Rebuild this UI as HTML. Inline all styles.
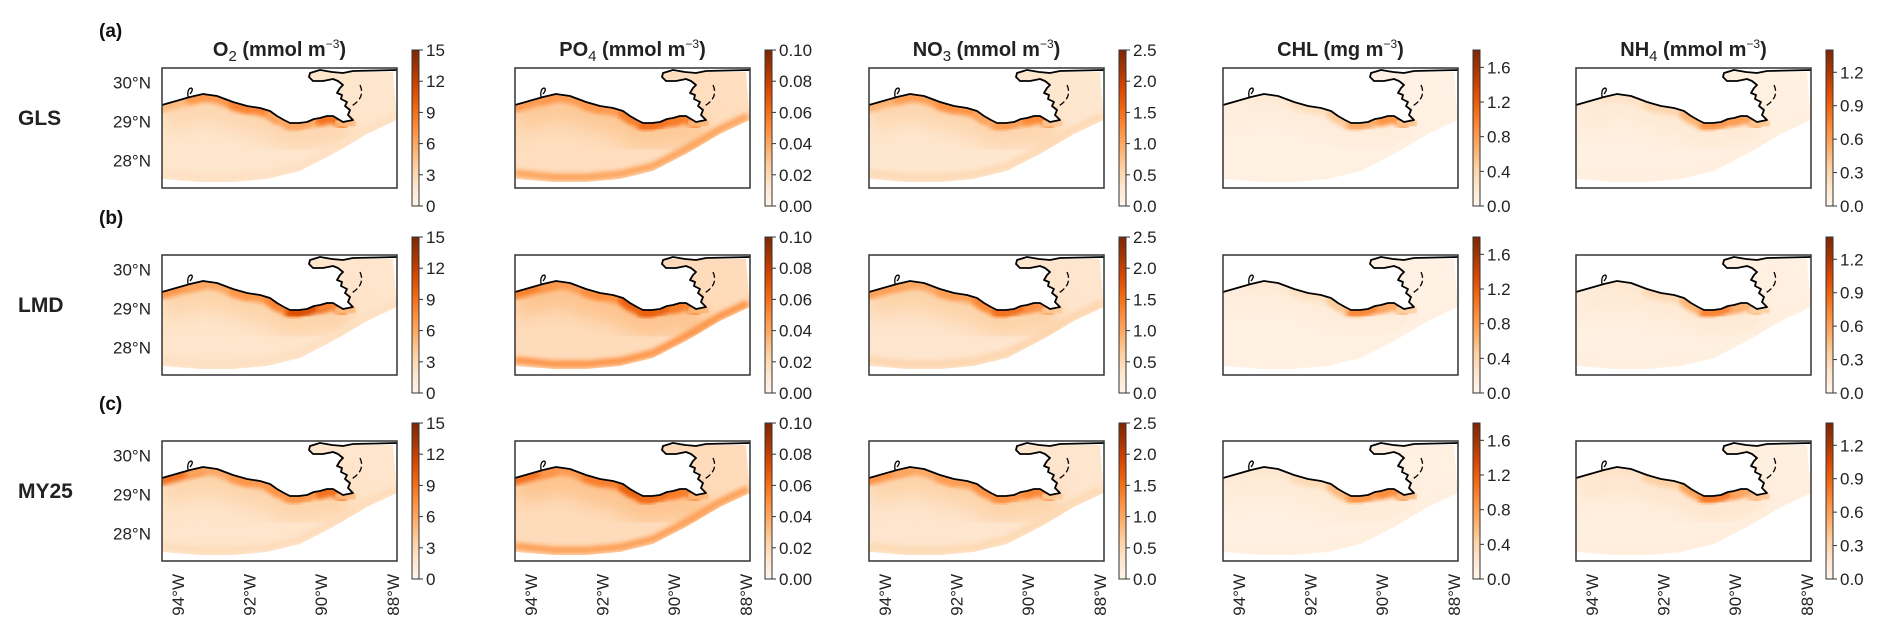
<!DOCTYPE html>
<html><head><meta charset="utf-8">
<style>
html,body{margin:0;padding:0;background:#fff;}
svg{display:block;font-family:"Liberation Sans",Arial,sans-serif;}
</style></head>
<body>
<svg id="fig" width="1892" height="639" viewBox="0 0 1892 639" xmlns="http://www.w3.org/2000/svg">
<defs>
<filter id="blur3" x="-20%" y="-50%" width="140%" height="200%"><feGaussianBlur stdDeviation="2.5"/></filter>
<filter id="blur8" x="-20%" y="-50%" width="140%" height="200%"><feGaussianBlur stdDeviation="10"/></filter>
<linearGradient id="cmap" x1="0" y1="1" x2="0" y2="0">
<stop offset="0" stop-color="#fff5eb"/><stop offset="0.125" stop-color="#fee6ce"/><stop offset="0.25" stop-color="#fdd0a2"/>
<stop offset="0.375" stop-color="#fdae6b"/><stop offset="0.5" stop-color="#fd8d3c"/><stop offset="0.625" stop-color="#f16913"/>
<stop offset="0.75" stop-color="#d94801"/><stop offset="0.875" stop-color="#a63603"/><stop offset="1" stop-color="#7f2704"/>
</linearGradient>
</defs>
</svg>
<script>
// ---- data ----
const models = ['GLS','LMD','MY25'];
const panelLetters = ['(a)','(b)','(c)'];
const varNames = ['O2','PO4','NO3','CHL','NH4'];
const vmax = [15, 0.1, 2.5, 1.8, 1.4];
const o2Ticks = [0,3,6,9,12,15];
const po4Ticks = [0,0.02,0.04,0.06,0.08,0.10];
const no3Ticks = [0,0.5,1.0,1.5,2.0,2.5];
const chlTicks = [0,0.4,0.8,1.2,1.6];
const nh4Ticks = [0,0.3,0.6,0.9,1.2];
const tickDecimals = [0,2,1,1,1];
const latTicks = [30,29,28];
const lonTicks = [94,92,90,88];
// offshore / nearshore / south-band values [model][var]
const offshoreVals = [[1.9,0.017,0.3,0.06,0.06],[2.0,0.018,0.32,0.06,0.06],[2.0,0.018,0.32,0.08,0.07]];
const nearshoreVals = [[3.2,0.028,0.55,0.13,0.14],[3.5,0.03,0.6,0.13,0.14],[3.4,0.03,0.58,0.16,0.17]];
const southVals = [[2.4,0.042,0.5,0.07,0.07],[2.4,0.048,0.55,0.07,0.07],[2.7,0.044,0.5,0.09,0.08]];
// coastal segment values (west -> east) [model][var][segment]
const coastVals = [
 [[5,7,8,6,6,9,5],[0.045,0.045,0.045,0.055,0.06,0.055,0.035],[0.9,1.1,1.2,1.0,1.1,1.3,0.7],[0.12,0.18,0.3,0.5,0.7,0.85,0.55],[0.12,0.2,0.3,0.5,0.65,0.6,0.4]],
 [[7,6,7,8,11,8,5],[0.055,0.045,0.05,0.065,0.065,0.055,0.035],[1.1,1.0,1.1,1.3,1.5,1.2,0.7],[0.12,0.18,0.28,0.5,0.95,0.7,0.45],[0.1,0.16,0.28,0.5,0.75,0.5,0.35]],
 [[9,6,7,7,7,9,5],[0.06,0.045,0.055,0.065,0.06,0.055,0.035],[1.2,1.0,1.1,1.2,1.2,1.3,0.7],[0.16,0.2,0.35,0.6,0.85,0.9,0.6],[0.15,0.2,0.35,0.6,0.8,0.55,0.4]]
];
const allTicks = [o2Ticks,po4Ticks,no3Ticks,chlTicks,nh4Ticks];

// ---- layout ----
const colLeft = [162,515,869,1223,1576];
const rowTop = [68,255,441];
const BW = 235, BH = 120;
const cbTop = [50,237,423], CBH = 156;
const NS = 'http://www.w3.org/2000/svg';
const svg = document.getElementById('fig');
const stops = ['#fff5eb','#fee6ce','#fdd0a2','#fdae6b','#fd8d3c','#f16913','#d94801','#a63603','#7f2704'];
function hex(c){return [parseInt(c.substr(1,2),16),parseInt(c.substr(3,2),16),parseInt(c.substr(5,2),16)];}
function cmap(t){t=Math.max(0,Math.min(1,t));const p=t*8,i=Math.min(7,Math.floor(p)),f=p-i;const a=hex(stops[i]),b=hex(stops[i+1]);
 return 'rgb('+a.map((v,k)=>Math.round(v+(b[k]-v)*f)).join(',')+')';}
function mk(tag,attrs,parent){const e=document.createElementNS(NS,tag);for(const k in attrs)e.setAttribute(k,attrs[k]);(parent||svg).appendChild(e);return e;}
function pts(a,ox,oy){return a.map(p=>(p[0]+ox)+','+(p[1]+oy)).join(' ');}
// axis functions
function latY(lat){return 14.5+(30-lat)*39;}
function lonX(lon){return 16+(94-lon)*35.8;}

const coast = [[0,37],[14,33],[28,29],[41,26],[55,28],[71,34],[85,38],[98,40],[108,43],[115,48],[122,52],[128,55],[137,55],[145,54],[152,51],[158,50],[165,48],[171,48],[176,51],[181,54],[186,53],[191,52]];
const segIdx = [[0,3],[2,6],[5,9],[8,12],[11,16],[15,19],[18,21]];
const delta = [[191,52],[186,47],[188,42],[183,38],[185,34],[179,31],[180,27],[175,25],[178,20],[181,17],[176,13],[171,11],[161,13],[151,13],[147,9],[148,5],[158,2],[170,4],[181,5],[191,3],[235,2]];
const landPoly = coast.concat(delta.slice(1)).concat([[235,0],[0,0]]);
const waterPoly = [[0,30],[0,111],[38,114],[72,114],[105,111],[138,103],[171,86],[205,66],[235,52],[231,4],[0,4]];
const southLine = [[0,105],[38,109],[72,109],[105,106],[138,98],[171,81],[205,61],[233,48]];

for(let r=0;r<3;r++){
 let t=mk('text',{x:18,y:rowTop[r]+57,'font-size':21,'font-weight':'bold',fill:'#222'});t.textContent=models[r];
 
 
 t=mk('text',{x:99,y:rowTop[r]-31,'font-size':19,'font-weight':'bold',fill:'#111'});t.textContent=panelLetters[r];
 
 
 for(let c=0;c<5;c++){
  const x0=colLeft[c], y0=rowTop[r], vm=vmax[c];
  const g=mk('g',{transform:'translate('+x0+','+y0+')'});
  
  
  const cid='clip'+r+'_'+c;
  const cp=mk('clipPath',{id:cid},g);mk('polygon',{points:pts(waterPoly,0,0)},cp);
  const w=mk('g',{'clip-path':'url(#'+cid+')'},g);
  mk('polygon',{points:pts(waterPoly,0,0),fill:cmap(offshoreVals[r][c]/vm)},w);
  let e=mk('polyline',{points:pts(coast,0,12),fill:'none',stroke:cmap(nearshoreVals[r][c]/vm),'stroke-width':30,filter:'url(#blur8)'},w);
  e=mk('polyline',{points:pts(southLine,0,0),fill:'none',stroke:cmap(southVals[r][c]/vm),'stroke-width':7,filter:'url(#blur3)'},w);
  
  
  coastVals[r][c].forEach((v,s)=>{
   const seg=coast.slice(segIdx[s][0],segIdx[s][1]+1);
   const m=mk('polyline',{points:pts(seg,0,3),fill:'none',stroke:cmap(v/vm),'stroke-width':9,'stroke-linecap':'round',filter:'url(#blur3)'},w);
   
   
  });
  mk('polygon',{points:pts(landPoly,0,0),fill:'#fff'},g);
  e=mk('polyline',{points:pts(coast.concat(delta.slice(1)),0,0),fill:'none',stroke:'#000','stroke-width':1.8,'stroke-linejoin':'round'},g);
  
  
  mk('path',{d:'M198,17 Q204,30 188,39',fill:'none',stroke:'#000','stroke-width':1.3,'stroke-dasharray':'6,3'},g);
  mk('path',{d:'M26,29 q-1,-8 3,-9 q3,1 -1,6',fill:'none',stroke:'#000','stroke-width':1.3},g);
  mk('rect',{x:0,y:0,width:BW,height:BH,fill:'none',stroke:'#333','stroke-width':1.5},g);
  if(c===0){
   latTicks.forEach(l=>{const tt=mk('text',{x:-11,y:latY(l)+6,'font-size':17,'text-anchor':'end',fill:'#222'},g);tt.textContent=l+'°N';
    
    });
  }
  if(r===2){
   lonTicks.forEach(l=>{const tx=lonX(l);const tt=mk('text',{transform:'translate('+(tx+6)+','+(BH+13)+') rotate(-90)','font-size':17,'text-anchor':'end',fill:'#222'},g);tt.textContent=l+'°W';
    
    });
  }
  const cx=x0+BW+15, cy=cbTop[r];
  const cb=mk('g',{transform:'translate('+cx+','+cy+')'});
  
  
  mk('rect',{x:0,y:0,width:7,height:CBH,fill:'url(#cmap)',stroke:'#333','stroke-width':1},cb);
  allTicks[c].forEach(v=>{const yy=CBH-v/vm*CBH;mk('line',{x1:7,x2:11,y1:yy,y2:yy,stroke:'#333','stroke-width':1},cb);
   const tt=mk('text',{x:14,y:yy+6,'font-size':17,fill:'#222'},cb);tt.textContent=v.toFixed(tickDecimals[c]);
   
   });
 }
}
const titleHTML=[['O','2',' (mmol m','−3',')'],['PO','4',' (mmol m','−3',')'],['NO','3',' (mmol m','−3',')'],['CHL','',' (mg m','−3',')'],['NH','4',' (mmol m','−3',')']];
titleHTML.forEach((p,c)=>{
 const t=mk('text',{x:colLeft[c]+BW/2,y:56,'font-size':20,'font-weight':'bold','text-anchor':'middle',fill:'#222'});
 
 
 let s=mk('tspan',{},t);s.textContent=p[0];
 if(p[1]){s=mk('tspan',{dy:5,'font-size':15,'font-weight':'normal'},t);s.textContent=p[1];s=mk('tspan',{dy:-5},t);s.textContent=p[2];}
 else{s=mk('tspan',{},t);s.textContent=p[2];}
 s=mk('tspan',{dy:-8,'font-size':12,'font-weight':'normal'},t);s.textContent=p[3];
 s=mk('tspan',{dy:8},t);s.textContent=p[4];
});
</script>
</body></html>
